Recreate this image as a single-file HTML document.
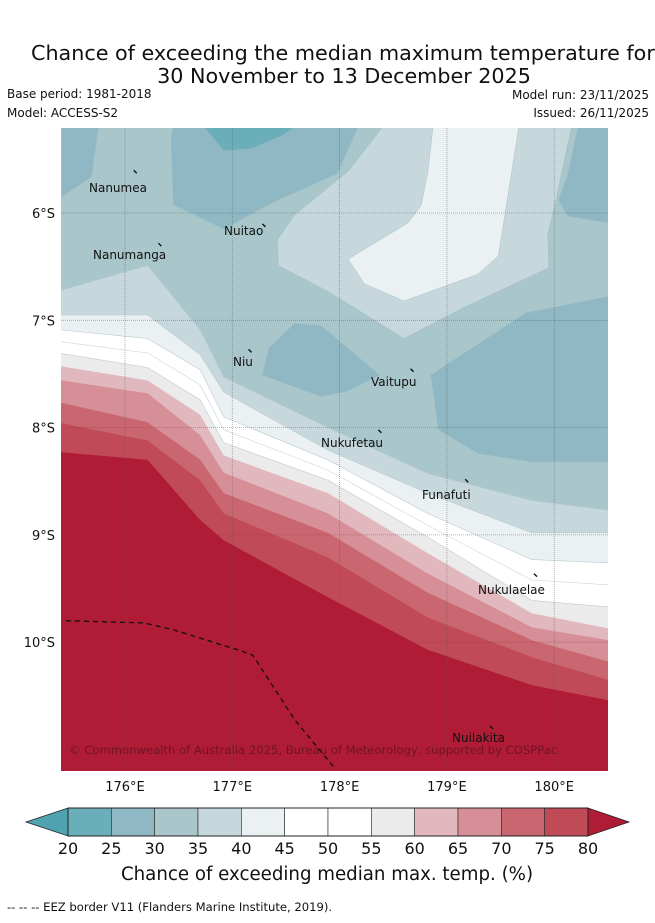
<!DOCTYPE html>
<html><head><meta charset="utf-8">
<style>
html,body{margin:0;padding:0;background:#fff;}
body{width:655px;height:919px;overflow:hidden;font-family:"DejaVu Sans","Liberation Sans",sans-serif;}
svg text{font-family:"DejaVu Sans","Liberation Sans",sans-serif;}
</style></head>
<body>
<svg id="chart" width="655" height="919" viewBox="0 0 655 919" xmlns="http://www.w3.org/2000/svg">
  <text x="31" y="60" font-size="20.7" fill="#111">Chance of exceeding the median maximum temperature for</text>
  <text x="344" y="83" font-size="20.7" fill="#111" text-anchor="middle">30 November to 13 December 2025</text>
  <text x="7" y="98" font-size="12" fill="#111">Base period: 1981-2018</text>
  <text x="7" y="117" font-size="12" fill="#111">Model: ACCESS-S2</text>
  <text x="649" y="99" font-size="12" fill="#111" text-anchor="end">Model run: 23/11/2025</text>
  <text x="649" y="117" font-size="12" fill="#111" text-anchor="end">Issued: 26/11/2025</text>
  <defs><clipPath id="mapclip"><rect x="61" y="128" width="547" height="643"/></clipPath></defs>
  <g id="map" clip-path="url(#mapclip)"></g>
  <g id="axes"></g>
  <g id="cbar"></g>
  <text x="327" y="880" font-size="18.2" fill="#111" text-anchor="middle">Chance of exceeding median max. temp. (%)</text>
  <text x="7" y="911" font-size="11.6" fill="#111">--  --  -- EEZ border V11 (Flanders Marine Institute, 2019).</text>
</svg>
<script>
// ---- data ----
const levels = [20,25,30,35,40,45,50,55,60,65,70,75,80];
const bandColors = ["#6aaeb9","#8fb8c4","#a9c6cb","#c7d8dc","#ebf0f2","#ffffff","#ffffff","#ecebec","#e1b8bd","#d68f97","#c9666f","#c04a56"];
const underColor = "#4fa3b0";
const overColor = "#b01c36";
const lonTicks = [176,177,178,179,180];
const latTicks = [6,7,8,9,10];
// contour boundary sample longitudes
const boundaryLons = [175.41,176.21,176.70,176.92,177.89,178.82,179.79,180.50];
// latitude (deg S) of the top edge of each band along boundaryLons
const bandTops = {
  "35-40":[6.72,6.49,7.09,7.53,8.0,8.43,8.68,8.77],
  "40-45":[6.95,6.95,7.32,7.67,8.21,8.61,8.98,8.98],
  "45-55":[7.09,7.17,7.46,7.90,8.30,8.80,9.23,9.26],
  "55-60":[7.31,7.44,7.74,8.14,8.49,9.02,9.61,9.67],
  "60-65":[7.43,7.56,7.88,8.26,8.61,9.17,9.73,9.87],
  "65-70":[7.56,7.68,8.07,8.42,8.80,9.36,9.86,9.98],
  "70-75":[7.77,7.95,8.30,8.61,8.98,9.54,9.98,10.18],
  "75-80":[7.96,8.12,8.49,8.80,9.21,9.77,10.14,10.35],
  ">80":  [8.23,8.30,8.86,9.05,9.58,10.07,10.40,10.54]
};
const bandKeys = ["35-40","40-45","45-55","55-60","60-65","65-70","70-75","75-80",">80"];
const bandKeyColors = ["#c7d8dc","#ebf0f2","#ffffff","#ecebec","#e1b8bd","#d68f97","#c9666f","#c04a56","#b01c36"];
// upper blue patches [lon,lat] outlines
const patches = [
  {name:"patch-25-30-northwest", color:"#8fb8c4", pts:[[175.41,5.2],[175.75,5.2],[175.69,5.66],[175.41,5.85]]},
  {name:"patch-25-30-north", color:"#8fb8c4", pts:[[176.45,5.2],[178.17,5.2],[177.98,5.63],[177.36,5.91],[176.92,6.15],[176.45,5.92],[176.43,5.3]]},
  {name:"patch-20-25-north", color:"#6aaeb9", pts:[[176.74,5.2],[177.58,5.2],[177.48,5.27],[177.18,5.4],[176.92,5.42]]},
  {name:"patch-35-40-northeast", color:"#c7d8dc", pts:[[178.40,5.2],[180.16,5.2],[180.01,5.91],[179.94,6.19],[179.95,6.51],[179.16,6.88],[178.60,7.17],[177.89,6.73],[177.43,6.49],[177.42,6.25],[177.58,6.02],[178.08,5.61]]},
  {name:"patch-40-45-northeast", color:"#ebf0f2", pts:[[178.87,5.2],[179.67,5.2],[179.48,6.40],[179.29,6.57],[178.60,6.82],[178.23,6.66],[178.08,6.43],[178.64,6.09],[178.76,5.93],[178.82,5.63]]},
  {name:"patch-25-30-east", color:"#8fb8c4", pts:[[180.22,5.2],[180.50,5.2],[180.50,6.09],[180.13,6.03],[180.04,5.88],[180.13,5.63]]},
  {name:"patch-25-30-vaitupu", color:"#8fb8c4", pts:[[177.58,7.03],[177.83,7.05],[178.37,7.51],[178.07,7.66],[177.83,7.71],[177.28,7.51],[177.34,7.26]]},
  {name:"patch-25-30-southeast", color:"#8fb8c4", pts:[[178.85,7.51],[179.74,6.93],[180.50,6.78],[180.50,8.32],[179.79,8.32],[179.29,8.24],[178.92,8.02],[178.88,7.71]]}
];
const eezLine = [[175.45,9.8],[176.18,9.82],[176.47,9.89],[177.08,10.08],[177.19,10.12],[177.58,10.72],[177.95,11.17]];
const islands = [
  {name:"Nanumea", lon:176.1, lat:5.62, tx:89, ty:192},
  {name:"Nuitao", lon:177.3, lat:6.12, tx:224, ty:235},
  {name:"Nanumanga", lon:176.33, lat:6.3, tx:93, ty:259},
  {name:"Niu", lon:177.17, lat:7.29, tx:233, ty:366},
  {name:"Vaitupu", lon:178.68, lat:7.47, tx:371, ty:386},
  {name:"Nukufetau", lon:178.38, lat:8.04, tx:321, ty:447},
  {name:"Funafuti", lon:179.19, lat:8.5, tx:422, ty:499},
  {name:"Nukulaelae", lon:179.83, lat:9.38, tx:478, ty:594},
  {name:"Nuilakita", lon:179.42, lat:10.8, tx:452, ty:742}
];
// ---- axis functions ----
const X0=61, X1=608, Y0=128, Y1=771;
function xOf(lon){ return 125 + (lon-176)*107.3; }
function yOf(lat){ return 213 + (lat-6)*107.3; }
const NS="http://www.w3.org/2000/svg";
function mk(tag, attrs, parent){ const e=document.createElementNS(NS,tag); for(const k in attrs) e.setAttribute(k,attrs[k]); parent.appendChild(e); return e; }
const map=document.getElementById('map');
const axes=document.getElementById('axes');
const cbar=document.getElementById('cbar');

let bg=mk('rect',{x:X0,y:Y0,width:X1-X0,height:Y1-Y0,fill:"#a9c6cb"},map);



patches.forEach(p=>{
  const pts=p.pts.map(q=>xOf(q[0]).toFixed(1)+","+yOf(q[1]).toFixed(1)).join(" ");
  const el=mk('polygon',{points:pts,fill:p.color,stroke:"#9bb9c0","stroke-width":"0.4"},map);
  
  
});

bandKeys.forEach((k,i)=>{
  const lats=bandTops[k];
  let d="M"+(X0-5)+","+(Y1+10);
  d+=" L"+(X0-5)+","+yOf(lats[0]).toFixed(1);
  boundaryLons.forEach((lon,j)=>{ d+=" L"+xOf(lon).toFixed(1)+","+yOf(lats[j]).toFixed(1); });
  d+=" L"+(X1+5)+","+yOf(lats[lats.length-1]).toFixed(1)+" L"+(X1+5)+","+(Y1+10)+" Z";
  const el=mk('path',{d:d,fill:bandKeyColors[i],stroke:(i<4?"#b9ccd1":"none"),"stroke-width":"0.6"},map);
  
  
});
{
  const a=bandTops["45-55"], b=bandTops["55-60"];
  let d="";
  boundaryLons.forEach((lon,j)=>{ d+=(j?" L":"M")+xOf(lon).toFixed(1)+","+yOf((a[j]+b[j])/2).toFixed(1); });
  const el=mk('path',{d:d,fill:"none",stroke:"#c9d6da","stroke-width":"0.6"},map);
  
  
}
lonTicks.forEach(lon=>{
  const el=mk('line',{x1:xOf(lon),x2:xOf(lon),y1:Y0,y2:Y1,stroke:"#555","stroke-width":"0.8","stroke-dasharray":"1,1","opacity":"0.55"},map);
  
  
});
latTicks.forEach(lat=>{
  const el=mk('line',{x1:X0,x2:X1,y1:yOf(lat),y2:yOf(lat),stroke:"#555","stroke-width":"0.8","stroke-dasharray":"1,1","opacity":"0.55"},map);
  
  
});
{
  const d=eezLine.map((q,j)=>(j?"L":"M")+xOf(q[0]).toFixed(1)+","+yOf(q[1]).toFixed(1)).join(" ");
  const el=mk('path',{d:d,fill:"none",stroke:"#111","stroke-width":"1.3","stroke-dasharray":"5,4"},map);
  
  
}
islands.forEach(is=>{
  const m=mk('line',{x1:xOf(is.lon)-2,y1:yOf(is.lat)-2,x2:xOf(is.lon)+1,y2:yOf(is.lat)+1,stroke:"#111","stroke-width":"1.4"},map);
  
  
  const t=mk('text',{x:is.tx,y:is.ty,"font-size":"12",fill:"#111"},map);
  t.textContent=is.name;
  
  
});
{
  const t=mk('text',{x:69,y:754,"font-size":"11.6",fill:"#5a1020","opacity":"0.75"},map);
  t.textContent="© Commonwealth of Australia 2025, Bureau of Meteorology, supported by COSPPac";
  
  
}
lonTicks.forEach(lon=>{
  const t=mk('text',{x:xOf(lon),y:791,"font-size":"13",fill:"#111","text-anchor":"middle"},axes);
  t.textContent=lon+"°E";
  
  
});
latTicks.forEach(lat=>{
  const t=mk('text',{x:55,y:yOf(lat)+5,"font-size":"13",fill:"#111","text-anchor":"end"},axes);
  t.textContent=lat+"°S";
  
  
});
const CB0=68, CB1=588, CBY=808, CBH=28;
function cbX(v){ return CB0 + (v-levels[0])/(levels[levels.length-1]-levels[0])*(CB1-CB0); }
{
  const u=mk('polygon',{points:`${CB0},${CBY} ${CB0},${CBY+CBH} 26,${CBY+CBH/2}`,fill:underColor,stroke:"#222","stroke-width":"0.8"},cbar);
  
  
  const o=mk('polygon',{points:`${CB1},${CBY} ${CB1},${CBY+CBH} 629,${CBY+CBH/2}`,fill:overColor,stroke:"#222","stroke-width":"0.8"},cbar);
  
  
}
bandColors.forEach((c,i)=>{
  const el=mk('rect',{x:cbX(levels[i]),y:CBY,width:cbX(levels[i+1])-cbX(levels[i]),height:CBH,fill:c,stroke:"#222","stroke-width":"0.6"},cbar);
  
  
});
{
  const f=mk('rect',{x:CB0,y:CBY,width:CB1-CB0,height:CBH,fill:"none",stroke:"#222","stroke-width":"1"},cbar);
  
  
}
levels.forEach(v=>{
  const t=mk('text',{x:cbX(v),y:854,"font-size":"16",fill:"#111","text-anchor":"middle"},cbar);
  t.textContent=v;
  
  
});
</script>
</body></html>
